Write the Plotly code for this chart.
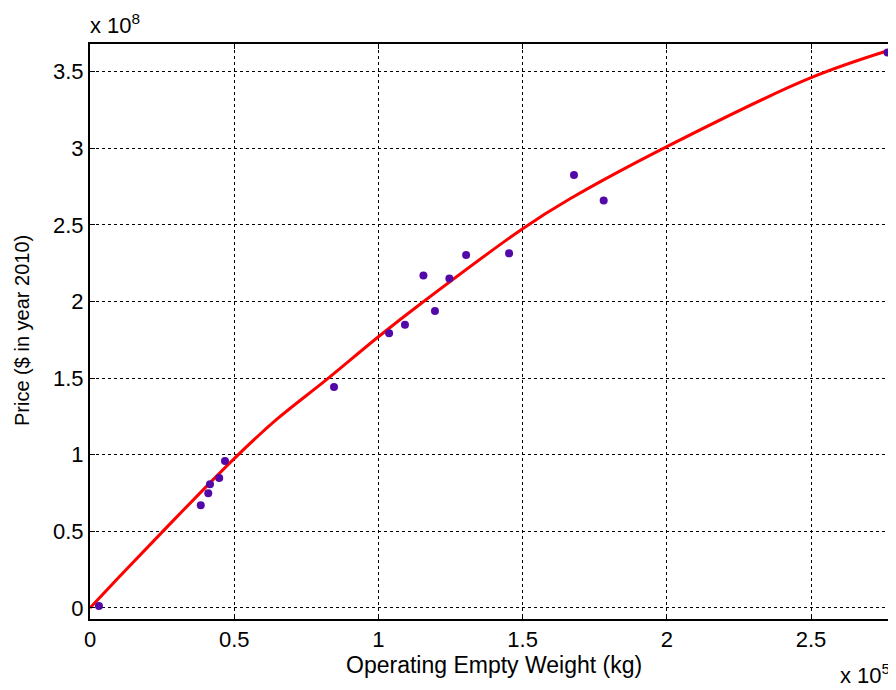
import plotly.graph_objects as go

# Data (OEW in units of 1e5 kg, price in units of 1e8 $ in 2010)
oew_points = [0.031, 0.384, 0.410, 0.416, 0.448, 0.468, 0.846, 1.037, 1.092, 1.156,
              1.196, 1.246, 1.304, 1.453, 1.678, 1.781, 2.765]
price_points = [0.013, 0.670, 0.748, 0.807, 0.848, 0.959, 1.442, 1.792, 1.848, 2.170,
                1.937, 2.150, 2.303, 2.314, 2.825, 2.659, 3.625]

fit_oew = [0.0, 0.10, 0.25, 0.50, 0.65, 0.82, 1.00, 1.15, 1.50, 1.66, 2.00, 2.50, 2.79]
fit_price = [0.0, 0.20, 0.495, 0.975, 1.235, 1.49, 1.77, 1.99, 2.475, 2.665, 3.01, 3.46, 3.65]

x_ticks = [0, 0.5, 1, 1.5, 2, 2.5]
x_tick_labels = ["0", "0.5", "1", "1.5", "2", "2.5"]
y_ticks = [0, 0.5, 1, 1.5, 2, 2.5, 3, 3.5]
y_tick_labels = ["0", "0.5", "1", "1.5", "2", "2.5", "3", "3.5"]

FONT = "Liberation Sans, Arial, sans-serif"

fig = go.Figure()
fig.add_trace(go.Scatter(x=fit_oew, y=fit_price, mode="lines",
                         line=dict(color="#ff0000", width=3, shape="spline", smoothing=1.0),
                         showlegend=False, hoverinfo="skip"))
fig.add_trace(go.Scatter(x=oew_points, y=price_points, mode="markers",
                         marker=dict(color="#5309a8", size=8),
                         showlegend=False))

axis_common = dict(showline=True, linecolor="black", linewidth=2, mirror="allticks",
                   ticks="inside", ticklen=5, tickwidth=1, tickcolor="black",
                   showgrid=True, gridcolor="black", gridwidth=1, griddash="dot",
                   zeroline=False, automargin=False,
                   tickfont=dict(family=FONT, size=22, color="black"))

fig.update_xaxes(range=[0, 2.791], tickvals=x_ticks, ticktext=x_tick_labels, **axis_common)
fig.update_yaxes(range=[-0.072, 3.68], tickvals=y_ticks, ticktext=y_tick_labels, **axis_common)

# page has an 8px body margin; compensate so the plot sits where the reference has it
OFF = 8
W, H = 896 - OFF, 690 - OFF
L, R, T, B = 90 - OFF, 1, 44 - OFF, 71
pw, ph = W - L - R, H - T - B

def px(x):
    return (x - OFF - L) / pw

def py(y):
    return (OFF + T + ph - y) / ph

annotations = [
    dict(text="Operating Empty Weight (kg)", x=px(494), y=py(665), xref="paper", yref="paper",
         showarrow=False, xanchor="center", yanchor="middle",
         font=dict(family=FONT, size=23, color="black")),
    dict(text="Price ($ in year 2010)", x=px(22), y=py(331), xref="paper", yref="paper",
         showarrow=False, xanchor="center", yanchor="middle", textangle=-90,
         font=dict(family=FONT, size=20, color="black")),
    dict(text="x 10<sup>8</sup>", x=px(88), y=py(40), xref="paper", yref="paper",
         showarrow=False, xanchor="left", yanchor="bottom",
         font=dict(family=FONT, size=22, color="black")),
    dict(text="x 10<sup>5</sup>", x=px(838), y=py(690), xref="paper", yref="paper",
         showarrow=False, xanchor="left", yanchor="bottom",
         font=dict(family=FONT, size=22, color="black")),
]

fig.update_layout(width=W, height=H, margin=dict(l=L, r=R, t=T, b=B),
                  paper_bgcolor="white", plot_bgcolor="white",
                  annotations=annotations, showlegend=False)

fig.write_html("out.html")
